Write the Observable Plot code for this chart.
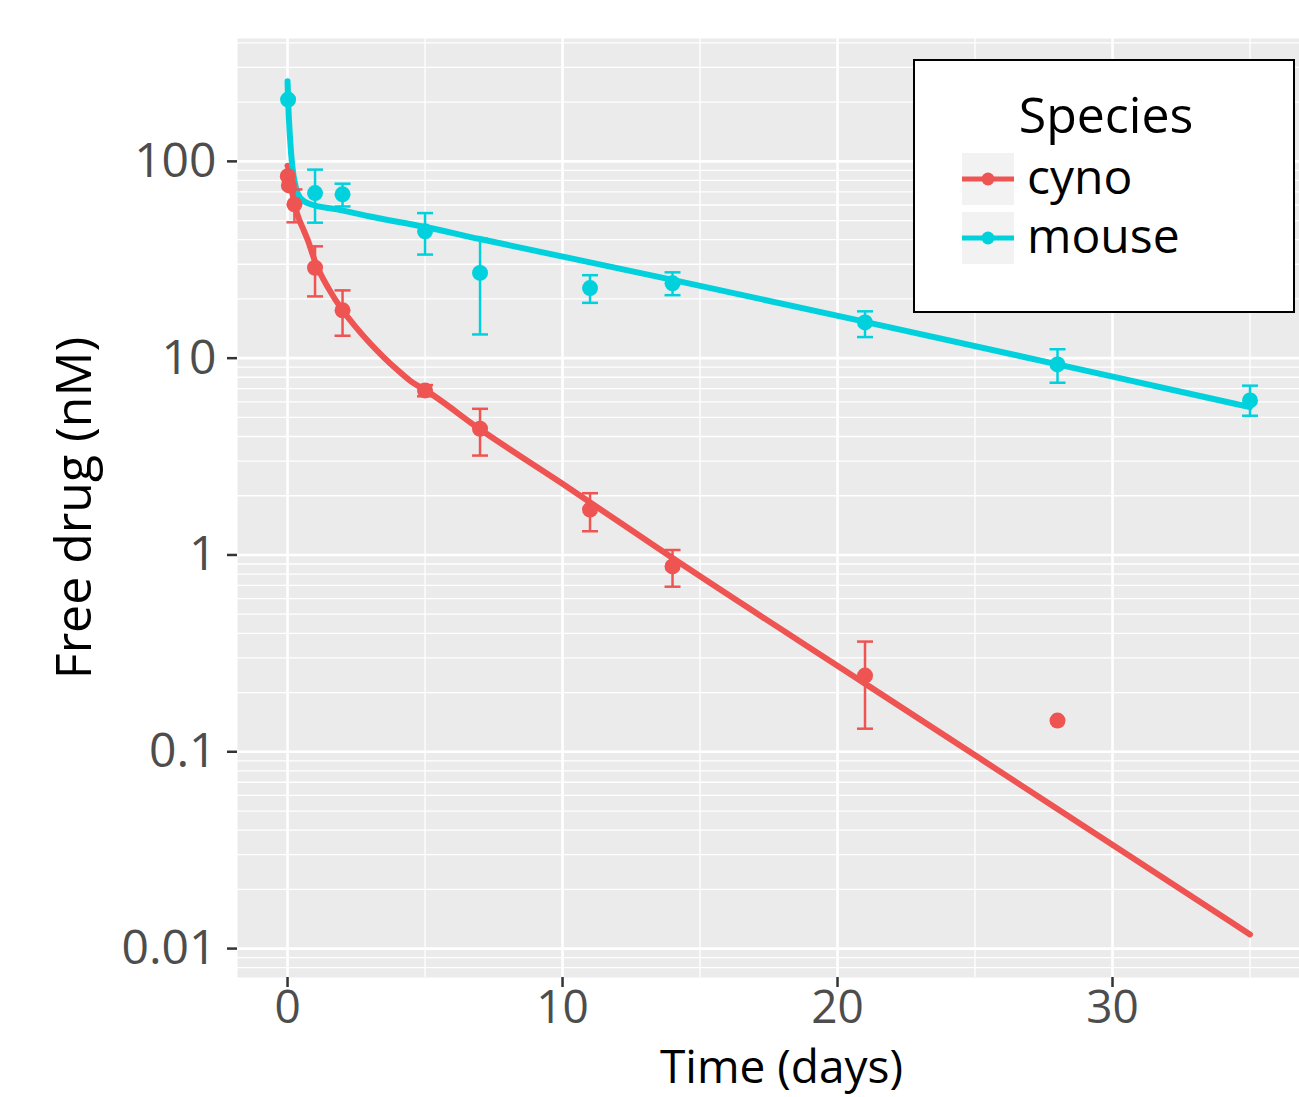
<!DOCTYPE html>
<html><head><meta charset="utf-8">
<script src="https://cdn.jsdelivr.net/npm/d3@7"></script>
<script src="https://cdn.jsdelivr.net/npm/@observablehq/plot@0.6"></script>
<style>
body{margin:0;background:#fff;}
#wrap{position:relative;width:1299px;height:1097px;overflow:hidden;font-family:"Open Sans",sans-serif;}
#legend{position:absolute;left:913px;top:59px;}
</style></head><body><div id="wrap"></div>
<script>
// ---- data ----
const species = ["cyno", "mouse"];
const speciesColors = ["#EE5452", "#00D1DC"];

// observed data (mean with error bars)
const cynoTime = [0.01, 0.05, 0.25, 1, 2, 5, 7, 11, 14, 21, 28];
const cynoMean = [84, 75.5, 60.5, 28.8, 17.5, 6.86, 4.38, 1.70, 0.875, 0.244, 0.144];
const cynoLow  = [null, null, 49, 20.6, 13, 6.4, 3.2, 1.32, 0.69, 0.131, null];
const cynoHigh = [null, null, 72, 37, 22.1, 7.3, 5.53, 2.06, 1.06, 0.363, null];

const mouseTime = [0.02, 1, 2, 5, 7, 11, 14, 21, 28, 35];
const mouseMean = [206, 69, 68, 44.1, 27.1, 22.7, 24, 15.2, 9.29, 6.1];
const mouseLow  = [null, 48.8, 59, 33.6, 13.2, 19.1, 20.9, 12.8, 7.5, 5.1];
const mouseHigh = [null, 90.8, 77, 54.6, 40.5, 26.4, 27.3, 17.3, 11.1, 7.25];

// fitted model curves
const cynoFitTime = [0, 0.05, 0.12, 0.23, 0.35, 0.59, 0.74, 1, 1.5, 2, 2.5, 3, 3.5, 4, 4.5, 5, 7, 10, 14, 21, 28, 35];
const cynoFitConc = [95, 90, 76, 63.4, 54.2, 44.6, 39.7, 31, 22.5, 17.5, 14.3, 11.9, 10.1, 8.7, 7.6, 6.9, 4.35, 2.3, 0.965, 0.222, 0.0512, 0.0118];
const mouseFitTime = [0, 0.02, 0.085, 0.17, 0.29, 0.47, 0.84, 1.8, 3, 5, 7, 14, 21, 28, 35];
const mouseFitConc = [255, 206, 135, 95, 75, 65, 60.5, 57, 52.5, 46.4, 40.3, 25, 15.3, 9.3, 5.64];

// axes
const xMajor = [0, 10, 20, 30];
const xMinor = [5, 15, 25, 35];
const xTickLabels = ["0", "10", "20", "30"];
const yMajor = [0.01, 0.1, 1, 10, 100];
const yTickLabels = ["0.01", "0.1", "1", "10", "100"];
const yMinor = [0.008, 0.009,
  0.02, 0.03, 0.04, 0.05, 0.06, 0.07, 0.08, 0.09,
  0.2, 0.3, 0.4, 0.5, 0.6, 0.7, 0.8, 0.9,
  2, 3, 4, 5, 6, 7, 8, 9,
  20, 30, 40, 50, 60, 70, 80, 90,
  200, 300, 400];
const xTitle = "Time (days)";
const yTitle = "Free drug (nM)";
const legendTitle = "Species";

// ---- tables ----
function obsRows(sp, T, M, L, H) {
  return T.map((t, i) => ({species: sp, t, mean: M[i], lo: L[i], hi: H[i]}));
}
const obs = [
  ...obsRows("cyno", cynoTime, cynoMean, cynoLow, cynoHigh),
  ...obsRows("mouse", mouseTime, mouseMean, mouseLow, mouseHigh)
];
const err = obs.filter(d => d.lo != null);
const fit = [
  ...cynoFitTime.map((t, i) => ({species: "cyno", t, c: cynoFitConc[i]})),
  ...mouseFitTime.map((t, i) => ({species: "mouse", t, c: mouseFitConc[i]}))
];

const capSymbol = {
  draw(ctx, size) { const r = Math.sqrt(size / Math.PI); ctx.moveTo(-r, 0); ctx.lineTo(r, 0); }
};

const color = {domain: species, range: speciesColors};

const chart = Plot.plot({
  width: 1299, height: 1097,
  marginLeft: 237, marginRight: 0, marginTop: 38, marginBottom: 120,
  x: {domain: [-1.82, 36.8]},
  y: {type: "log", domain: [0.00713, 421]},
  color,
  style: {fontFamily: "'Open Sans', sans-serif", background: "white"},
  marks: [
    Plot.frame({fill: "#EBEBEB", stroke: null}),
    Plot.ruleY(yMinor, {stroke: "white", strokeWidth: 1.3}),
    Plot.ruleX(xMinor, {stroke: "white", strokeWidth: 1.3}),
    Plot.ruleY(yMajor, {stroke: "white", strokeWidth: 2.6}),
    Plot.ruleX(xMajor, {stroke: "white", strokeWidth: 2.6}),
    Plot.line(fit, {x: "t", y: "c", z: "species", stroke: "species", strokeWidth: 6, curve: "monotone-x"}),
    Plot.ruleX(err, {x: "t", y1: "lo", y2: "hi", stroke: "species", strokeWidth: 2.5}),
    Plot.dot(err, {x: "t", y: "lo", symbol: capSymbol, r: 8, stroke: "species", strokeWidth: 2.5, fill: "none"}),
    Plot.dot(err, {x: "t", y: "hi", symbol: capSymbol, r: 8, stroke: "species", strokeWidth: 2.5, fill: "none"}),
    Plot.dot(obs, {x: "t", y: "mean", r: 8, fill: "species", stroke: null}),
    Plot.axisX(xMajor, {tickSize: 10, tickPadding: 3, fontSize: 46, stroke: "#333", strokeWidth: 2.5, fill: "#4D4D4D",
      tickFormat: d => xTickLabels[xMajor.indexOf(d)], label: null}),
    Plot.axisY(yMajor, {tickSize: 10, tickPadding: 11, fontSize: 48, stroke: "#333", strokeWidth: 2.5, fill: "#4D4D4D",
      tickFormat: d => yTickLabels[yMajor.indexOf(d)], label: null}),
    Plot.text([xTitle], {frameAnchor: "bottom", textAnchor: "middle", lineAnchor: "bottom", dx: 13, dy: 105, fontSize: 46, fill: "black"}),
    Plot.text([yTitle], {frameAnchor: "left", textAnchor: "middle", rotate: -90, lineAnchor: "middle", dx: -163, fontSize: 50, fill: "black"})
  ]
});

const wrap = document.getElementById("wrap");
wrap.appendChild(chart);

// ---- legend ----
const lg = d3.create("svg").attr("id", "legend").attr("width", 382).attr("height", 254)
  .style("font-family", "'Open Sans', sans-serif");
lg.append("rect").attr("x", 1).attr("y", 1).attr("width", 380).attr("height", 252)
  .attr("fill", "white").attr("stroke", "black").attr("stroke-width", 2);
lg.append("text").attr("x", 193).attr("y", 74).attr("text-anchor", "middle")
  .attr("font-size", 50).attr("fill", "black").text(legendTitle);
species.forEach((s, i) => {
  const top = 94 + i * 59;
  const cy = top + 26;
  lg.append("rect").attr("x", 49).attr("y", top).attr("width", 52).attr("height", 52).attr("fill", "#F2F2F2");
  lg.append("line").attr("x1", 49).attr("x2", 101).attr("y1", cy).attr("y2", cy)
    .attr("stroke", speciesColors[i]).attr("stroke-width", 5);
  lg.append("circle").attr("cx", 75).attr("cy", cy).attr("r", 6.5).attr("fill", speciesColors[i]);
  lg.append("text").attr("x", 114).attr("y", cy + 15).attr("font-size", 48).attr("fill", "black").text(s);
});
wrap.appendChild(lg.node());
</script></body></html>
